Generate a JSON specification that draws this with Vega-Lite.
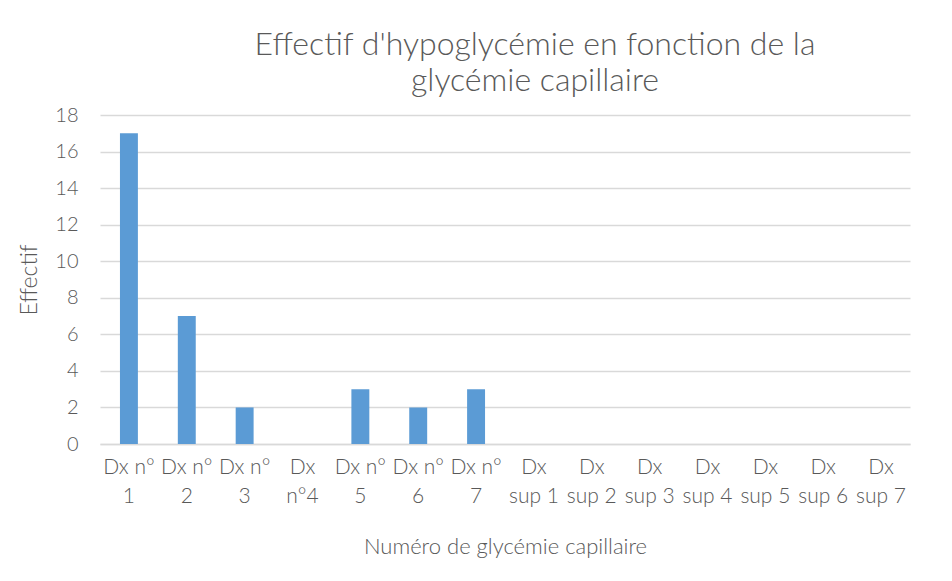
{
  "$schema": "https://vega.github.io/schema/vega-lite/v6.json",
  "autosize": {"type": "none"},
  "padding": {"left": 100, "top": 115, "right": 42, "bottom": 137},
  "width": 810,
  "height": 329,
  "background": "white",
  "title": {
    "text": ["Effectif d'hypoglycémie en fonction de la", "glycémie capillaire"],
    "anchor": "middle",
    "dx": 30,
    "offset": 7,
    "font": "Lato",
    "fontSize": 32,
    "fontWeight": 300,
    "color": "#595959",
    "lineHeight": 36
  },
  "data": {
    "values": [
      {"cat": "Dx n° 1", "effectif": 17},
      {"cat": "Dx n° 2", "effectif": 7},
      {"cat": "Dx n° 3", "effectif": 2},
      {"cat": "Dx n°4", "effectif": 0},
      {"cat": "Dx n° 5", "effectif": 3},
      {"cat": "Dx n° 6", "effectif": 2},
      {"cat": "Dx n° 7", "effectif": 3},
      {"cat": "Dx sup 1", "effectif": 0},
      {"cat": "Dx sup 2", "effectif": 0},
      {"cat": "Dx sup 3", "effectif": 0},
      {"cat": "Dx sup 4", "effectif": 0},
      {"cat": "Dx sup 5", "effectif": 0},
      {"cat": "Dx sup 6", "effectif": 0},
      {"cat": "Dx sup 7", "effectif": 0}
    ]
  },
  "mark": {"type": "bar", "color": "#5b9bd5"},
  "encoding": {
    "x": {
      "field": "cat",
      "type": "nominal",
      "sort": null,
      "scale": {"paddingInner": 0.69, "paddingOuter": 0.345},
      "axis": {
        "title": "Numéro de glycémie capillaire",
        "titleFont": "Lato",
        "titleFontSize": 22,
        "titleFontWeight": 300,
        "titleColor": "#595959",
        "titlePadding": 30,
        "labelAngle": 0,
        "labelFont": "Lato",
        "labelFontSize": 21,
        "labelFontWeight": 300,
        "labelColor": "#595959",
        "labelLineHeight": 29,
        "labelPadding": 12,
        "labelExpr": "indexof(datum.label,'sup')>=0 ? ['Dx', slice(datum.label,3)] : [slice(datum.label,0,lastindexof(datum.label,' ')), slice(datum.label,lastindexof(datum.label,' ')+1)]",
        "ticks": false,
        "domainColor": "#d9d9d9",
        "domainWidth": 1.5,
        "grid": false
      }
    },
    "y": {
      "field": "effectif",
      "type": "quantitative",
      "scale": {"domain": [0, 18], "nice": false},
      "axis": {
        "title": "Effectif",
        "titleFont": "Lato",
        "titleFontSize": 23,
        "titleFontWeight": 300,
        "titleColor": "#595959",
        "titlePadding": 13,
        "values": [0, 2, 4, 6, 8, 10, 12, 14, 16, 18],
        "labelFont": "Lato",
        "labelFontSize": 20,
        "labelFontWeight": 300,
        "labelColor": "#595959",
        "labelPadding": 22,
        "ticks": false,
        "domain": false,
        "gridColor": "#d9d9d9",
        "gridWidth": 1.5
      }
    }
  },
  "config": {"view": {"stroke": null}}
}
